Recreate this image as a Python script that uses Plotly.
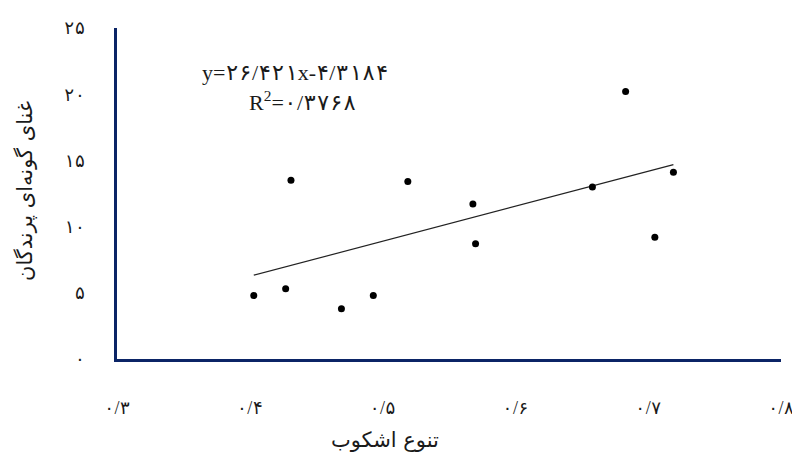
import plotly.graph_objects as go

# Data
canopy_diversity = [0.403, 0.427, 0.431, 0.469, 0.493, 0.519, 0.568, 0.570, 0.658, 0.683, 0.705, 0.719]
bird_richness = [4.8, 5.3, 13.5, 3.8, 4.8, 13.4, 11.7, 8.7, 13.0, 20.2, 9.2, 14.1]

slope = 26.421
intercept = -4.3184

x_tickvals = [0.3, 0.4, 0.5, 0.6, 0.7, 0.8]
x_ticktext = ["۰/۳", "۰/۴", "۰/۵", "۰/۶", "۰/۷", "۰/۸"]
y_tickvals = [0, 5, 10, 15, 20, 25]
y_ticktext = ["۰", "۵", "۱۰", "۱۵", "۲۰", "۲۵"]

eq_text = "y=۲۶/۴۲۱x-۴/۳۱۸۴"
r2_text = "R<sup>2</sup>=۰/۳۷۶۸"
x_title = "تنوع اشکوب"
y_title = "غنای گونه‌ای پرندگان"

axis_color = "#0B2466"
num_font = "Liberation Serif, DejaVu Sans Mono, DejaVu Sans, serif"
txt_color = "#1a1a1a"

x_line = [min(canopy_diversity), max(canopy_diversity)]
y_line = [slope * v + intercept for v in x_line]

fig = go.Figure()
fig.add_trace(go.Scatter(x=x_line, y=y_line, mode="lines",
                         line=dict(color="#222222", width=1.2), hoverinfo="skip"))
fig.add_trace(go.Scatter(x=canopy_diversity, y=bird_richness, mode="markers",
                         marker=dict(color="black", size=7)))

fig.update_layout(
    width=792, height=451,
    margin=dict(l=109, r=19, t=20, b=100),
    paper_bgcolor="white", plot_bgcolor="white",
    showlegend=False,
    font=dict(family=num_font, color=txt_color, size=14),
    xaxis=dict(range=[0.3, 0.8], tickvals=x_tickvals, ticktext=x_ticktext,
               showgrid=False, zeroline=False, showline=True, linecolor=axis_color,
               linewidth=3, ticks="", ticklabelstandoff=30, automargin=False,
               tickfont=dict(family=num_font, size=18, color=txt_color)),
    yaxis=dict(range=[0, 25], tickvals=y_tickvals, ticktext=y_ticktext,
               showgrid=False, zeroline=False, showline=True, linecolor=axis_color,
               linewidth=3, ticks="", ticklabelstandoff=25, automargin=False,
               tickfont=dict(family=num_font, size=18, color=txt_color)),
)

fig.add_annotation(text=eq_text, xref="paper", yref="paper", x=(295 - 117) / 664, y=(359 - 72) / 331,
                   xanchor="center", yanchor="middle",
                   showarrow=False, font=dict(family=num_font, size=22, color=txt_color))
fig.add_annotation(text=r2_text, xref="paper", yref="paper", x=(302 - 117) / 664, y=(359 - 101) / 331,
                   xanchor="center", yanchor="middle",
                   showarrow=False, font=dict(family=num_font, size=22, color=txt_color))
fig.add_annotation(text=x_title, xref="paper", yref="paper", x=(385 - 117) / 664, y=(359 - 440) / 331,
                   xanchor="center", yanchor="middle",
                   showarrow=False, font=dict(family="DejaVu Sans, serif", size=21, color=txt_color))
fig.add_annotation(text=y_title, xref="paper", yref="paper", x=(25 - 117) / 664, y=(359 - 191) / 331,
                   xanchor="center", yanchor="middle", textangle=-90,
                   showarrow=False, font=dict(family="DejaVu Sans, serif", size=21, color=txt_color))

fig.write_html("out.html")
